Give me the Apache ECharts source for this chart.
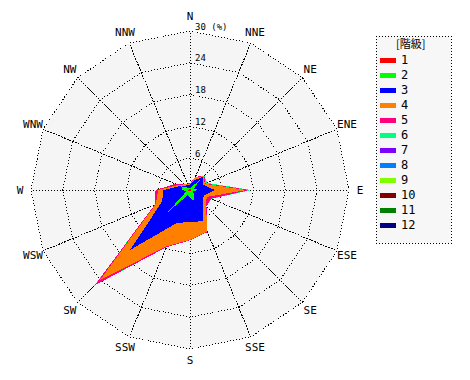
<!DOCTYPE html>
<html><head><meta charset="utf-8">
<script src="https://cdn.jsdelivr.net/npm/echarts@6/dist/echarts.min.js"></script>
<style>html,body{margin:0;padding:0;background:#fff}#c{width:470px;height:380px}
#c svg path,#c svg polygon,#c svg polyline,#c svg line,#c svg rect{shape-rendering:crispEdges}</style>
</head><body><div id="c"></div>
<script>
// Wind directions (clockwise from north)
const directions = ['N','NNE','NE','ENE','E','ESE','SE','SSE','S','SSW','SW','WSW','W','WNW','NW','NNW'];
// Class names (階級)
const classNames = ['1','2','3','4','5','6','7','8','9','10','11','12'];
// Frequency (%) per class, per direction (N, NNE, ..., NNW)
const class1  = [0.2,0.2,0.3,0.2,0.3,0.2,0.2,0.2,0.3,0.3,0.4,0.3,0.3,0.2,0.2,0.2];
const class2  = [0.2,0.4,2.3,0.6,1.3,0.4,0.8,2.0,1.2,0.7,5.6,0.5,1.1,1.6,0.4,0.2];
const class3  = [0.6,1.4,0.9,1.8,3.1,2.2,2.4,4.2,4.5,5.8,10.0,4.9,3.6,0.2,0.6,0.6];
const class4  = [0.2,0.6,0.2,0.4,6.0,0.6,0.9,2.1,3.4,4.7,8.0,1.3,1.0,0.5,0.3,0.2];
const class5  = [0.1,0.1,0.1,0.2,0.5,0.9,0.1,0.1,0.1,0.2,1.4,0.2,0.5,0.5,0.1,0.1];
const class6  = [0.0,0.0,0.0,0.3,0.4,0.1,0.0,0.0,0.0,0.0,0.1,0.0,0.0,0.0,0.0,0.0];
const class7  = [0,0,0,0,0,0,0,0,0,0,0,0,0,0,0,0];
const class8  = [0,0,0,0,0,0,0,0,0,0,0,0,0,0,0,0];
const class9  = [0,0,0,0,0,0,0,0,0,0,0,0,0,0,0,0];
const class10 = [0,0,0,0,0,0,0,0,0,0,0,0,0,0,0,0];
const class11 = [0,0,0,0,0,0,0,0,0,0,0,0,0,0,0,0];
const class12 = [0,0,0,0,0,0,0,0,0,0,0,0,0,0,0,0];
// Radial ticks (%)
const radialTicks = [0,6,12,18,24,30];
const unitText = '(%)';
const legendTitle = '[階級]';

const classValues = [class1,class2,class3,class4,class5,class6,class7,class8,class9,class10,class11,class12];
const classColors = ['#ff0000','#00ff00','#0000ff','#ff8000','#ff0080','#00ff80','#8000ff','#0080ff','#80ff00','#800000','#008000','#000080'];

// cumulative stacking
const cumulative = [];
classValues.forEach((arr, k) => {
  cumulative.push(arr.map((v, d) => +(v + (k ? cumulative[k-1][d] : 0)).toFixed(3)));
});
// radar indicators run counter-clockwise; reorder so directions run clockwise
const order = directions.map((_, i) => (directions.length - i) % directions.length);
const reorder = arr => order.map(d => arr[d]);

const rMin = radialTicks[0], rMax = radialTicks[radialTicks.length - 1];
const dotted = { color: '#000', type: [1, 2], width: 1 };
const indicator = order.map((d, i) => {
  const ind = { name: directions[d], min: rMin, max: rMax,
    axisLine: { show: true, lineStyle: dotted } };
  if (i === 0) {
    ind.axisLabel = {
      show: true, showMinLabel: false, color: '#000', fontSize: 9,
      fontFamily: 'DejaVu Sans Mono', margin: -5, align: 'left', verticalAlign: 'bottom',
      formatter: v => v === rMax ? v + ' ' + unitText : String(v)
    };
  }
  return ind;
});

const seriesData = [];
for (let k = classValues.length - 1; k >= 0; k--) {
  seriesData.push({
    name: classNames[k],
    value: reorder(cumulative[k]),
    symbol: 'none',
    itemStyle: { color: classColors[k] },
    lineStyle: { width: 0, opacity: 0 },
    areaStyle: { color: classColors[k], opacity: 1 }
  });
}

const chart = echarts.init(document.getElementById('c'), null, { renderer: 'svg' });
chart.setOption({
  animation: false,
  backgroundColor: '#fff',
  title: {
    text: legendTitle, left: 396, top: 37, padding: 0,
    textStyle: { fontSize: 11, fontWeight: 'normal', color: '#000', fontFamily: 'Noto Sans CJK JP' }
  },
  legend: {
    orient: 'vertical', left: 376, top: 36, data: classNames, icon: 'rect',
    itemWidth: 16, itemHeight: 5, itemGap: 3, selectedMode: false,
    padding: [18, 36, 12, 4],
    backgroundColor: '#f7f7f7', borderColor: '#000', borderWidth: 1, borderType: [1, 2],
    textStyle: { fontSize: 12, color: '#000', fontFamily: 'DejaVu Sans Mono', lineHeight: 12 }
  },
  radar: {
    center: [190, 190], radius: 159, startAngle: 90, shape: 'polygon', splitNumber: 5,
    indicator: indicator,
    nameGap: 11,
    axisName: { color: '#000', fontSize: 11, fontFamily: 'DejaVu Sans Mono', align: 'center', verticalAlign: 'middle' },
    splitLine: { lineStyle: dotted },
    splitArea: { show: true, areaStyle: { color: ['#f5f5f5'] } },
    axisLine: { show: true, lineStyle: dotted },
    axisTick: { show: false },
    axisLabel: { show: false }
  },
  series: [{ type: 'radar', silent: true, data: seriesData, z: 2 }]
});
</script></body></html>
